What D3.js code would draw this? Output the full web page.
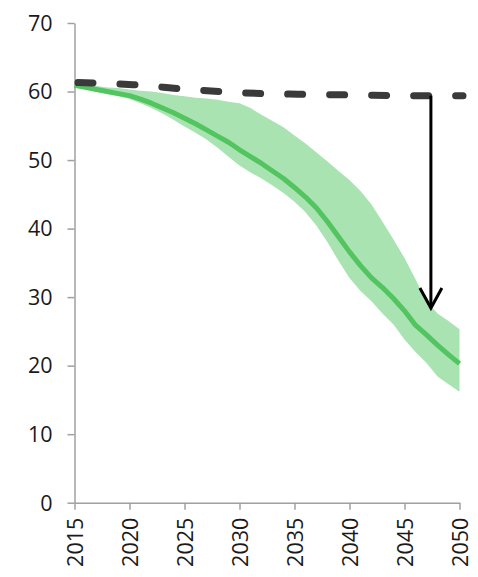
<!DOCTYPE html>
<html>
<head>
<meta charset="utf-8">
<script src="https://cdn.jsdelivr.net/npm/d3@7"></script>
<style>
  html, body { margin: 0; padding: 0; background: #fff; }
  svg { display: block; }
  .axis text { font-family: "Open Sans", "DejaVu Sans", sans-serif; font-size: 21.5px; fill: #1a1a1a; }
  .axis path, .axis line { stroke: #a0a0a0; stroke-width: 1.5px; }
</style>
</head>
<body>
<svg id="chart" width="478" height="577"></svg>
<script>
// ---- Data ----
const years = d3.range(2015, 2051);
const central = [60.9, 60.6, 60.3, 60.0, 59.7, 59.4, 58.9, 58.3, 57.6, 56.9,
                 56.1, 55.3, 54.4, 53.5, 52.6, 51.5, 50.5, 49.5, 48.4, 47.3,
                 46.0, 44.6, 43.0, 41.0, 38.8, 36.6, 34.6, 32.8, 31.4, 29.8,
                 28.0, 25.9, 24.5, 23.0, 21.6, 20.3];
const upper =   [61.2, 61.0, 60.8, 60.6, 60.5, 60.3, 60.1, 60.0, 59.8, 59.5,
                 59.3, 59.1, 59.0, 58.8, 58.5, 58.3, 57.6, 56.6, 55.7, 54.8,
                 53.6, 52.4, 51.1, 49.8, 48.4, 47.1, 45.5, 43.5, 41.0, 38.4,
                 35.7, 32.6, 29.4, 27.6, 26.5, 25.3];
const lower =   [60.6, 60.3, 60.0, 59.6, 59.3, 58.9, 58.3, 57.6, 56.8, 55.9,
                 54.9, 54.0, 53.0, 51.8, 50.5, 49.2, 48.2, 47.3, 46.3, 45.2,
                 43.9, 42.4, 40.4, 38.0, 35.3, 32.8, 30.9, 29.4, 27.6, 26.0,
                 23.8, 22.0, 20.4, 18.4, 17.3, 16.2];
const baselineYears = [2015, 2020, 2025, 2030, 2035, 2040, 2045, 2050];
const baseline      = [61.3, 61.0, 60.3, 59.8, 59.6, 59.5, 59.4, 59.4];
const arrowYear = 2047.4;
const arrowFrom = 59.4;
const arrowTo = 28.4;
const xTicks = [2015, 2020, 2025, 2030, 2035, 2040, 2045, 2050];
const yTicks = [0, 10, 20, 30, 40, 50, 60, 70];

// ---- Scales ----
const svg = d3.select("#chart");
const x = d3.scaleLinear().domain([2015, 2050]).range([74.5, 459.5]);
const y = d3.scaleLinear().domain([0, 70]).range([502.7, 23]);

// ---- Axes ----
const yAxis = d3.axisLeft(y).tickValues(yTicks).tickSize(7).tickSizeOuter(0).tickPadding(15);
const gy = svg.append("g").attr("class", "axis").attr("transform", "translate(74.5,0)").call(yAxis);
gy.selectAll("text").attr("dy", "0.34em");

const xAxis = d3.axisBottom(x).tickValues(xTicks).tickFormat(d3.format("d")).tickSize(7).tickSizeOuter(0).tickPadding(8);
const gx = svg.append("g").attr("class", "axis").attr("transform", "translate(0,502.7)").call(xAxis);
gx.selectAll("text")
  .attr("transform", "rotate(-90)")
  .attr("text-anchor", "end")
  .attr("x", -15)
  .attr("y", 0)
  .attr("dy", "0.38em");

// ---- Band ----
const bandData = years.map((yr, i) => ({yr, lo: lower[i], hi: upper[i]}));
svg.append("path")
  .datum(bandData)
  .attr("fill", "#aae3b2")
  .attr("d", d3.area().x(d => x(d.yr)).y0(d => y(d.lo)).y1(d => y(d.hi)));

// ---- Central line ----
svg.append("path")
  .datum(years.map((yr, i) => ({yr, v: central[i]})))
  .attr("fill", "none")
  .attr("stroke", "#52c460")
  .attr("stroke-width", 5)
  .attr("stroke-linejoin", "round")
  .attr("d", d3.line().x(d => x(d.yr)).y(d => y(d.v)));

// ---- Baseline dashed ----
svg.append("path")
  .datum(baselineYears.map((yr, i) => ({yr, v: baseline[i]})))
  .attr("fill", "none")
  .attr("stroke", "#3a3a3a")
  .attr("stroke-width", 7)
  .attr("stroke-linecap", "round")
  .attr("stroke-dasharray", "15,27")
  .attr("transform", "translate(3.5,0)")
  .attr("d", d3.line().x(d => x(d.yr)).y(d => y(d.v)).curve(d3.curveMonotoneX));

// ---- Arrow ----
const ax = x(arrowYear), ay0 = y(arrowFrom), ay1 = y(arrowTo);
svg.append("line")
  .attr("x1", ax).attr("x2", ax).attr("y1", ay0).attr("y2", ay1 - 1)
  .attr("stroke", "#000").attr("stroke-width", 3);
svg.append("path")
  .attr("d", `M${ax - 11},${ay1 - 20} L${ax},${ay1} L${ax + 11},${ay1 - 20}`)
  .attr("fill", "none").attr("stroke", "#000").attr("stroke-width", 3)
  .attr("stroke-linejoin", "miter");
</script>
</body>
</html>
